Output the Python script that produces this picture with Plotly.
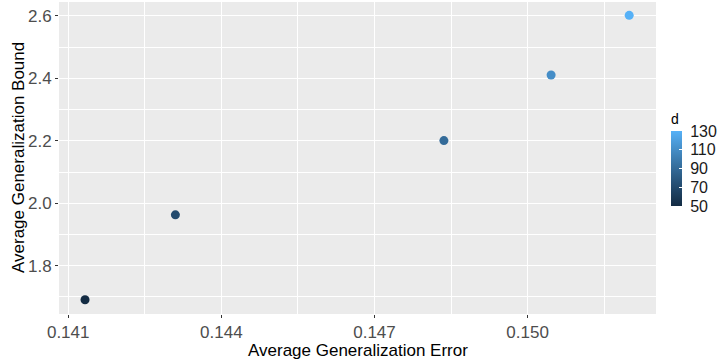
import numpy as np
import plotly.graph_objects as go

gen_error = [0.14133, 0.14310, 0.14836, 0.15046, 0.15199]
gen_bound = [1.691, 1.963, 2.201, 2.411, 2.602]
d_values = [50, 70, 90, 110, 130]
x_ticks = [0.141, 0.144, 0.147, 0.150]
y_ticks = [1.8, 2.0, 2.2, 2.4, 2.6]
cbar_ticks = [50, 70, 90, 110, 130]


def hex_to_rgb(h):
    h = h.lstrip("#")
    return np.array([int(h[i:i + 2], 16) for i in (0, 2, 4)]) / 255.0


def srgb_to_lin(c):
    return np.where(c <= 0.04045, c / 12.92, ((c + 0.055) / 1.055) ** 2.4)


def lin_to_srgb(c):
    return np.where(c <= 0.0031308, 12.92 * c, 1.055 * np.clip(c, 0, None) ** (1 / 2.4) - 0.055)


M = np.array([[0.4124, 0.3576, 0.1805], [0.2126, 0.7152, 0.0722], [0.0193, 0.1192, 0.9505]])
Minv = np.linalg.inv(M)
WP = np.array([0.95047, 1.0, 1.08883])


def f(t):
    return np.where(t > (6 / 29) ** 3, np.cbrt(t), t / (3 * (6 / 29) ** 2) + 4 / 29)


def finv(t):
    return np.where(t > 6 / 29, t ** 3, 3 * (6 / 29) ** 2 * (t - 4 / 29))


def rgb_to_lab(rgb):
    xyz = M @ srgb_to_lin(rgb) / WP
    fx, fy, fz = f(xyz)
    return np.array([116 * fy - 16, 500 * (fx - fy), 200 * (fy - fz)])


def lab_to_hex(lab):
    L, a, b = lab
    fy = (L + 16) / 116
    fx = fy + a / 500
    fz = fy - b / 200
    xyz = finv(np.array([fx, fy, fz])) * WP
    rgb = np.clip(lin_to_srgb(Minv @ xyz), 0, 1)
    return "#%02x%02x%02x" % tuple(int(round(v * 255)) for v in rgb)


lab_lo = rgb_to_lab(hex_to_rgb("#132B43"))
lab_hi = rgb_to_lab(hex_to_rgb("#56B1F7"))
stops = np.linspace(0, 1, 11)
colorscale = [[float(s), lab_to_hex(lab_lo + s * (lab_hi - lab_lo))] for s in stops]

font_family = "Liberation Sans, Arial, sans-serif"

fig = go.Figure()
fig.add_trace(go.Scatter(
    x=gen_error, y=gen_bound, mode="markers",
    marker=dict(
        size=9, color=d_values, colorscale=colorscale, cmin=50, cmax=130,
        line=dict(width=0),
        colorbar=dict(
            title=dict(text="d", side="top", font=dict(size=14, color="#000000", family=font_family)),
            tickvals=cbar_ticks, ticktext=[" " + str(v) for v in cbar_ticks],
            tickfont=dict(size=16, color="#1a1a1a", family=font_family),
            thickness=11, thicknessmode="pixels", len=96, lenmode="pixels",
            x=1.025, xanchor="left", y=0.5, yanchor="middle",
            outlinewidth=0, xpad=0, ypad=0,
            ticks="inside", tickcolor="white", ticklen=3, tickwidth=1,
        ),
    ),
    showlegend=False, hoverinfo="skip",
))

fig.update_layout(
    width=724, height=360,
    margin=dict(l=59, r=68, t=2, b=46, autoexpand=False),
    paper_bgcolor="white", plot_bgcolor="#EBEBEB",
    font=dict(family=font_family),
    xaxis=dict(
        range=[0.14082, 0.152515], tickvals=x_ticks, ticktext=["%.3f" % v for v in x_ticks],
        showgrid=True, gridcolor="white", gridwidth=1.1, zeroline=False,
        ticks="outside", ticklen=3, tickcolor="#333333", tickwidth=1,
        tickfont=dict(size=17, color="#4D4D4D"),
        minor=dict(dtick=0.0015, tick0=0.141, showgrid=True, gridcolor="white", gridwidth=0.5, ticks=""),
        showline=False, automargin=False,
    ),
    yaxis=dict(
        range=[1.6455, 2.6448], tickvals=y_ticks, ticktext=["%.1f" % v for v in y_ticks],
        showgrid=True, gridcolor="white", gridwidth=1.1, zeroline=False,
        ticks="outside", ticklen=3, tickcolor="#333333", tickwidth=1,
        tickfont=dict(size=17, color="#4D4D4D"),
        minor=dict(dtick=0.1, tick0=1.8, showgrid=True, gridcolor="white", gridwidth=0.5, ticks=""),
        showline=False, automargin=False,
    ),
    annotations=[
        dict(text="Average Generalization Error", xref="paper", yref="paper",
             x=0.5, y=(314 - 350) / 312, xanchor="center", yanchor="middle",
             showarrow=False, font=dict(size=17, color="#000000", family=font_family)),
        dict(text="Average Generalization Bound", xref="paper", yref="paper",
             x=(18 - 59) / 597, y=0.5, xanchor="center", yanchor="middle", textangle=-90,
             showarrow=False, font=dict(size=17, color="#000000", family=font_family)),
    ],
)

fig.write_html("out.html", config={"displayModeBar": False},
               post_script="document.body.style.margin='0';document.body.style.overflow='hidden';")
